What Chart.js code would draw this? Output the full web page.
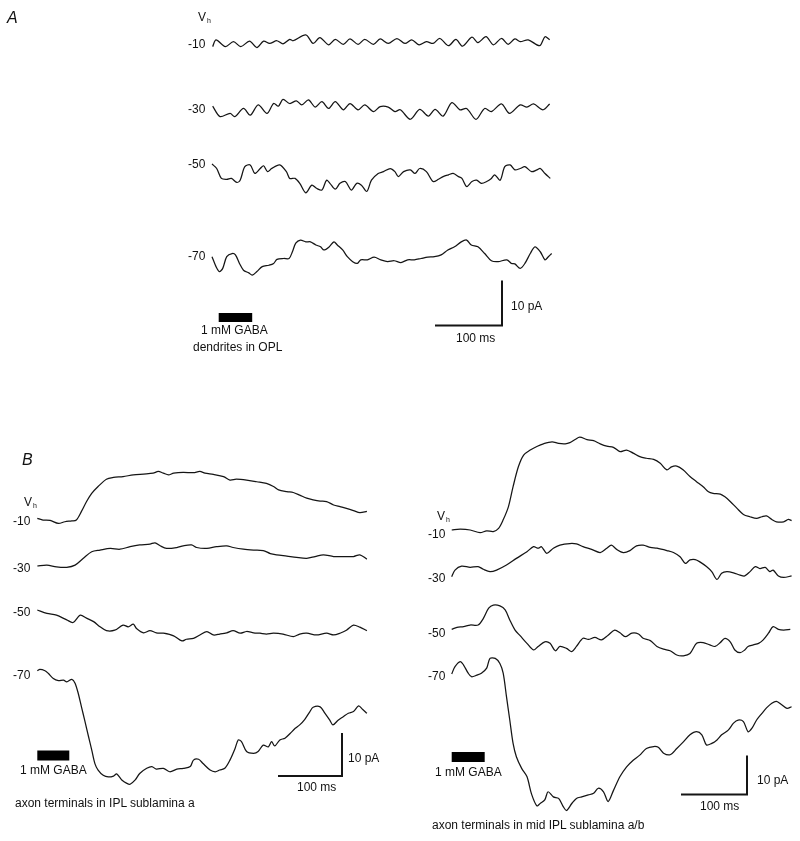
<!DOCTYPE html>
<html><head><meta charset="utf-8">
<script src="https://cdn.jsdelivr.net/npm/chart.js@4"></script>
<style>
html,body{margin:0;padding:0;background:#fff;}
#wrap{position:relative;width:800px;height:841px;overflow:hidden;font-family:"Liberation Sans",Arial,sans-serif;color:#111;}
#c{position:absolute;left:0;top:0;}
.t{position:absolute;font-size:12px;line-height:12px;white-space:nowrap;}
.p{position:absolute;font-size:16px;line-height:16px;font-style:italic;}
.t sub{font-size:7px;vertical-align:-2px;margin-left:1px;}
</style></head><body>
<div id="wrap">
<canvas id="c" width="800" height="841"></canvas>
<!-- panel A -->
<div class="p" style="left:7px;top:10px">A</div>
<div class="t" style="left:198px;top:11px">V<sub>h</sub></div>
<div class="t" style="left:188px;top:38px">-10</div>
<div class="t" style="left:188px;top:103px">-30</div>
<div class="t" style="left:188px;top:158px">-50</div>
<div class="t" style="left:188px;top:250px">-70</div>
<div class="t" style="left:201px;top:324px">1 mM GABA</div>
<div class="t" style="left:193px;top:341px">dendrites in OPL</div>
<div class="t" style="left:511px;top:300px">10 pA</div>
<div class="t" style="left:456px;top:332px">100 ms</div>
<!-- panel B left -->
<div class="p" style="left:22px;top:452px">B</div>
<div class="t" style="left:24px;top:496px">V<sub>h</sub></div>
<div class="t" style="left:13px;top:515px">-10</div>
<div class="t" style="left:13px;top:562px">-30</div>
<div class="t" style="left:13px;top:606px">-50</div>
<div class="t" style="left:13px;top:669px">-70</div>
<div class="t" style="left:20px;top:764px">1 mM GABA</div>
<div class="t" style="left:15px;top:797px">axon terminals in IPL sublamina a</div>
<div class="t" style="left:348px;top:752px">10 pA</div>
<div class="t" style="left:297px;top:781px">100 ms</div>
<!-- panel B right -->
<div class="t" style="left:437px;top:510px">V<sub>h</sub></div>
<div class="t" style="left:428px;top:528px">-10</div>
<div class="t" style="left:428px;top:572px">-30</div>
<div class="t" style="left:428px;top:627px">-50</div>
<div class="t" style="left:428px;top:670px">-70</div>
<div class="t" style="left:435px;top:766px">1 mM GABA</div>
<div class="t" style="left:432px;top:819px">axon terminals in mid IPL sublamina a/b</div>
<div class="t" style="left:757px;top:774px">10 pA</div>
<div class="t" style="left:700px;top:800px">100 ms</div>
</div>
<script>
// ---------------- DATA (time in ms, current in pA) ----------------
// Panel A: dendrites in OPL
const tA10 = [1,6,20,32,43,56,67,77,86,97,106,116,121,140,151,161,174,184,196,206,218,228,241,251,263,276,288,298,309,320,330,340,353,364,374,388,397,409,420,432,442,452,460,472,489,497,504];
const iA10 = [-0.8,0.7,-0.8,0.3,-0.8,0.4,-1.0,0.4,-0.1,0.5,-0.2,0.8,0.5,1.8,-0.1,1.2,-0.4,0.8,-0.3,0.9,-0.3,0.8,-0.3,0.9,-0.1,1.0,-0.1,0.7,-0.4,0.3,-0.1,1.0,-0.6,0.8,-0.7,1.3,0.1,1.4,-0.4,1.0,-0.3,0.9,0.3,0.7,-0.6,1.4,0.7];
const tA30 = [1,12,27,34,47,57,69,82,92,99,106,116,126,134,144,154,164,174,184,196,206,218,228,241,251,263,273,281,296,310,323,333,345,358,370,380,394,407,417,432,444,460,470,480,494,504];
const iA30 = [0.4,-1.9,-1.2,-1.9,-0.1,-1.6,0.7,-1.2,1.0,0.4,1.9,1.0,1.6,0.7,1.8,0.2,1.4,-0.1,1.4,-0.4,1.0,-0.4,0.7,-0.8,0.3,0.2,-0.8,-0.4,-2.5,-0.3,-1.8,-0.3,-1.8,1.2,-0.4,-0.1,-2.5,-0.1,-0.8,0.9,-1.2,0.7,0.2,0.9,-0.4,0.9];
const tA50 = [0,7,14,22,29,37,42,49,57,64,72,77,83,89,101,111,116,124,131,140,149,156,164,171,176,184,191,199,208,216,223,231,238,248,256,266,273,278,286,296,303,310,320,330,338,345,353,360,368,373,380,388,395,402,410,417,422,430,437,445,452,460,467,477,485,490,497,505];
const iA50 = [0,-1.0,-3.2,-3.4,-3.2,-4.1,-3.6,-0.6,-0.2,-2.1,-1.0,-0.4,-1.7,-1.0,-0.2,-1.7,-3.2,-3.2,-4.3,-6.4,-4.7,-5.4,-5.8,-3.6,-4.3,-5.6,-4.3,-3.9,-5.8,-4.3,-4.7,-6.1,-3.6,-2.1,-1.7,-1.0,-1.7,-2.8,-1.7,-1.3,-2.1,-1.0,-1.7,-3.9,-3.4,-2.8,-2.4,-2.1,-2.8,-3.2,-5.0,-3.9,-3.6,-4.3,-3.9,-3.2,-2.4,-3.6,-0.6,-0.2,-1.3,-1.0,-0.6,-1.7,-1.3,-1.0,-2.1,-3.2];
const tA70 = [0,6,11,16,22,30,35,41,47,55,60,67,75,85,92,97,107,115,120,125,132,140,147,155,162,167,175,182,187,195,202,210,217,222,232,242,252,262,272,282,292,302,312,322,332,342,352,362,372,380,387,397,407,417,427,440,447,452,460,467,475,482,490,497,502,507];
const iA70 = [0,-2.2,-3.3,-2.6,0,0.7,0.4,-1.5,-3.0,-3.6,-4.1,-3.3,-2.2,-1.9,-1.5,-0.6,-0.4,-0.4,1.1,3.0,3.7,3.3,3.3,2.6,2.2,1.5,2.2,3.3,2.6,1.5,0,-1.1,-1.5,-0.7,-0.7,-0.1,-0.7,-1.1,-0.9,-1.3,-0.7,-0.7,-0.4,-0.1,0,0.4,1.5,2.2,3.3,3.7,2.6,2.2,0.7,-0.9,-1.1,-0.7,-1.5,-1.6,-2.6,-1.5,0.7,2.2,1.1,-0.7,0,0.7];

// Panel B left: axon terminals in IPL sublamina a
const tL10 = [0,9,20,33,43,54,61,69,77,85,95,108,119,134,150,166,181,189,197,205,213,228,244,254,262,275,291,301,311,327,343,358,369,377,390,400,410,421,431,442,452,463,473,483,494,504,515];
const iL10 = [0,-0.4,-0.5,-1.2,-0.8,-0.6,-0.4,1.6,3.9,5.8,7.4,9.1,9.5,9.7,10.1,10.3,10.5,10.9,10.5,10.1,10.5,10.7,10.6,10.9,10.5,10.2,9.7,8.9,9.1,8.9,8.5,8.1,7.4,6.6,6.2,6.0,5.4,4.7,4.3,4.0,3.9,3.1,2.7,2.3,1.8,1.3,1.6];
const tL30 = [0,15,30,46,59,72,85,98,114,129,145,160,176,184,192,202,218,228,241,249,265,280,296,306,322,338,353,364,374,390,405,421,434,447,463,478,494,504,515];
const iL30 = [0,0.2,-0.2,-0.3,0.2,1.8,3.3,3.7,4.1,3.9,4.5,4.9,5.1,5.4,4.7,4.1,4.3,4.7,4.9,4.3,4.1,4.5,4.7,4.3,3.9,3.7,3.6,2.9,2.6,2.3,2.0,1.8,2.2,2.6,2.2,2.2,2.2,2.6,1.6];
const tL50 = [0,15,30,46,56,67,77,88,98,108,121,134,142,150,155,166,176,186,197,213,226,233,244,254,265,275,285,296,306,317,327,338,348,358,369,384,400,410,421,436,452,463,473,483,494,504,515];
const iL50 = [0,-0.8,-1.2,-2.3,-2.9,-1.2,-1.9,-2.7,-3.9,-4.8,-4.7,-3.5,-3.9,-3.3,-4.3,-5.3,-4.8,-5.3,-5.4,-6.0,-7.2,-6.8,-6.6,-5.8,-5.0,-5.8,-5.6,-5.3,-4.8,-5.4,-5.0,-5.3,-5.4,-5.6,-5.4,-5.6,-6.2,-5.6,-5.4,-5.8,-5.4,-5.8,-5.4,-4.7,-3.5,-4.0,-4.8];
const tL70 = [0,4,12,17,25,33,41,46,54,59,64,69,74,80,85,90,95,103,111,119,124,132,140,145,153,160,171,179,186,197,207,218,228,239,244,252,259,270,278,285,293,301,309,314,319,327,338,345,353,361,366,371,379,387,395,403,410,418,426,431,442,449,457,462,470,478,486,494,502,509,515];
const iL70 = [0,0.3,0,-0.6,-1.8,-2.3,-2.2,-2.6,-2.0,-2.9,-5.3,-8.4,-11.5,-15.3,-18.4,-21.6,-23.1,-24.3,-24.7,-24.5,-24.0,-25.4,-26.2,-26.4,-25.4,-23.9,-22.7,-22.3,-22.9,-22.7,-23.5,-22.9,-22.7,-22.3,-20.8,-20.6,-21.6,-23.1,-23.5,-23.1,-22.7,-20.8,-18.1,-16.1,-16.5,-18.8,-19.2,-18.8,-17.3,-17.7,-16.5,-17.5,-16.1,-15.7,-14.6,-13.4,-12.6,-11.3,-9.5,-8.5,-8.4,-9.8,-11.5,-12.6,-11.5,-10.7,-9.9,-9.5,-8.2,-9.1,-9.9];

// Panel B right: axon terminals in mid IPL sublamina a/b
const tR10 = [0,13,28,43,53,63,71,78,86,93,101,109,119,129,139,152,162,172,179,187,194,205,215,225,235,245,255,265,275,285,295,306,316,326,333,341,351,361,371,381,389,396,407,414,422,432,442,452,462,470,477,485,492,503,510,515];
const iR10 = [0,0.2,0,-0.7,-0.2,-0.4,0.4,2.6,6.0,11.1,16.2,19.2,20.5,21.4,22.1,22.6,22.2,22.1,22.4,23.2,23.8,23.2,22.9,22.1,21.5,21.2,20.1,20.5,19.7,18.8,18.4,18.1,17.1,15.4,16.2,16.4,15.4,13.7,12.4,11.1,9.8,9.4,9.2,8.5,7.3,5.6,4.0,3.4,3.0,3.4,3.6,2.7,2.1,2.1,2.7,2.4];
const tR30 = [0,5,15,28,40,48,58,68,83,98,114,124,131,136,144,154,164,179,189,199,212,225,235,242,250,260,270,280,290,301,311,326,336,346,354,361,369,376,386,394,402,409,417,427,437,444,452,460,467,475,482,487,495,503,515];
const iR30 = [0,1.7,2.7,2.4,2.6,1.9,1.3,1.7,3.0,4.7,6.4,7.7,7.3,7.7,6.0,7.3,8.1,8.5,8.4,7.7,7.0,6.2,7.3,8.1,7.0,6.2,6.7,7.9,8.1,7.5,7.3,6.7,6.2,5.1,3.4,4.3,4.4,3.8,2.6,1.3,-0.7,0.9,1.3,1.0,0.4,0.2,1.3,2.6,2.1,2.4,1.3,1.7,0.2,-0.2,0.2];
const tR50 = [0,8,18,28,40,48,56,63,73,81,88,96,104,114,124,131,141,149,157,164,174,182,189,199,207,217,227,237,247,255,263,273,283,290,301,311,321,331,341,351,361,371,381,391,399,407,414,422,429,437,444,449,457,465,472,480,487,495,503,513];
const iR50 = [0,0.5,0.7,1.1,1.1,2.8,5.4,6.2,6.0,5.0,2.4,-0.2,-1.7,-3.6,-5.3,-4.4,-3.2,-3.6,-5.5,-4.4,-4.9,-5.7,-4.4,-2.3,-2.6,-2.1,-2.7,-1.5,-0.2,-0.9,-1.9,-1.0,-1.2,-2.3,-2.9,-4.4,-5.1,-5.5,-6.6,-6.8,-6.2,-3.6,-3.4,-4.0,-4.4,-3.4,-2.3,-3.2,-5.3,-6.0,-5.3,-4.4,-4.0,-3.6,-2.7,-1.0,0.7,0,-0.2,0];
const tR70 = [0,5,13,18,25,30,38,45,53,58,66,73,78,83,88,93,98,106,114,121,129,134,141,146,154,162,169,174,182,189,197,207,215,222,230,237,245,255,265,275,285,295,306,313,321,331,341,351,361,371,379,386,394,402,409,419,427,434,442,449,455,462,470,477,485,492,500,508,515];
const iR70 = [0,1.9,3.2,2.3,0.2,-0.7,-0.3,0.2,1.5,4.0,4.0,2.7,0.2,-5.8,-11.8,-17.8,-21.2,-24.2,-26.3,-30.8,-33.8,-33.2,-32.3,-30.2,-31.5,-31.9,-34.0,-35.0,-33.2,-31.9,-31.5,-31.0,-30.6,-29.3,-30.2,-32.7,-29.9,-26.3,-23.8,-22.1,-20.8,-19.1,-18.6,-18.8,-20.3,-20.7,-19.1,-17.4,-15.6,-14.8,-15.6,-18.2,-17.8,-16.9,-15.6,-14.4,-12.6,-11.8,-12.2,-14.8,-13.9,-11.8,-10.1,-8.7,-7.5,-7.0,-7.9,-8.8,-8.4];

// GABA application windows (ms) and scale bars
const gabaA = [10, 60];
const gabaB = [0, 50];
const barMs = 100;
const barPA = 10;

// ---------------- LAYOUT (pixels) ----------------
const W = 800, H = 841;
const layout = {
  A:  {x0: 212,   kx: 0.67, ky: 4.5, base: [43, 108, 164, 256.7],   corner: [502, 325.5], gabaY: 317.5, gabaW: 9},
  L:  {x0: 37.3,  kx: 0.64, ky: 4.3, base: [518.3, 566, 610, 670.7], corner: [342, 776],   gabaY: 755.5, gabaW: 10},
  R:  {x0: 451.7, kx: 0.66, ky: 3.9, base: [530, 576.7, 629.3, 674], corner: [747, 794.5], gabaY: 757,   gabaW: 10}
};
const INK = '#151515';

function trace(id, t, v, k) {
  const p = layout[id];
  const off = -p.base[k] / p.ky;
  const n = Math.min(t.length, v.length);
  const data = [];
  for (let i = 0; i < n; i++) data.push({x: t[i], y: v[i] + off});
  return {data, xAxisID: 'x' + id, yAxisID: 'y' + id, showLine: true, borderColor: INK,
          borderWidth: 1.25, pointRadius: 0, tension: 0.3, fill: false, clip: false};
}
function scaleBar(id) {
  const p = layout[id];
  const tc = (p.corner[0] - p.x0) / p.kx, yc = -p.corner[1] / p.ky;
  return {data: [{x: tc - barMs, y: yc}, {x: tc, y: yc}, {x: tc, y: yc + barPA}],
          xAxisID: 'x' + id, yAxisID: 'y' + id, showLine: true, borderColor: INK, borderWidth: 2,
          pointRadius: 0, tension: 0, borderJoinStyle: 'miter', borderCapStyle: 'butt', clip: false};
}
function gabaBar(id, g) {
  const p = layout[id];
  const yg = -p.gabaY / p.ky;
  return {data: [{x: g[0], y: yg}, {x: g[1], y: yg}], xAxisID: 'x' + id, yAxisID: 'y' + id,
          showLine: true, borderColor: '#000', borderWidth: p.gabaW, borderCapStyle: 'butt',
          pointRadius: 0, tension: 0, clip: false};
}

const datasets = [
  trace('A', tA10, iA10, 0), trace('A', tA30, iA30, 1), trace('A', tA50, iA50, 2), trace('A', tA70, iA70, 3),
  trace('L', tL10, iL10, 0), trace('L', tL30, iL30, 1), trace('L', tL50, iL50, 2), trace('L', tL70, iL70, 3),
  trace('R', tR10, iR10, 0), trace('R', tR30, iR30, 1), trace('R', tR50, iR50, 2), trace('R', tR70, iR70, 3),
  scaleBar('A'), scaleBar('L'), scaleBar('R'),
  gabaBar('A', gabaA), gabaBar('L', gabaB), gabaBar('R', gabaB)
];

const scales = {};
for (const id of Object.keys(layout)) {
  const p = layout[id];
  scales['x' + id] = {type: 'linear', axis: 'x', display: false, min: -p.x0 / p.kx, max: (W - p.x0) / p.kx};
  scales['y' + id] = {type: 'linear', axis: 'y', display: false, min: -H / p.ky, max: 0};
}

new Chart(document.getElementById('c'), {
  type: 'scatter',
  data: {datasets},
  options: {
    responsive: false, animation: false, events: [],
    layout: {padding: 0},
    plugins: {legend: {display: false}, tooltip: {enabled: false}},
    scales
  }
});
</script>
</body></html>
